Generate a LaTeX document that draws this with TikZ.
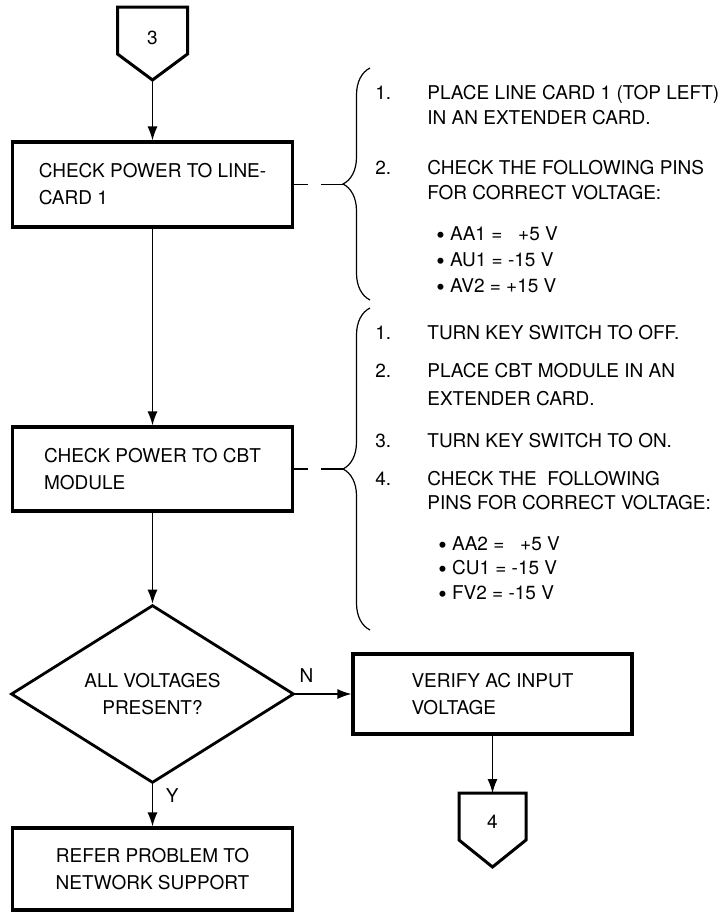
\documentclass[tikz,border=0pt]{standalone}
\usepackage{fontspec}
\setmainfont{TeX Gyre Heros}
\usepackage{tikz}
\usetikzlibrary{arrows.meta,shapes.geometric,decorations.pathreplacing}
\newcommand{\dotmark}{\raisebox{-1.6pt}{\fontsize{12}{12}\selectfont •}}
\tikzstyle{box}=[rectangle, draw=black, line width=1.6pt, minimum width=140pt, minimum height=42.5pt, inner sep=0pt, align=left]
\tikzstyle{decision}=[diamond, draw=black, line width=1.4pt, minimum width=141.5pt, minimum height=79pt, inner sep=0pt, align=center]
\tikzstyle{offpage}=[draw=black, line width=1.5pt]
\tikzstyle{arrow}=[draw=black, line width=0.6pt, -{Latex[length=7pt,width=5pt]}]
\tikzstyle{dashline}=[draw=black, line width=0.6pt, dash pattern=on 7pt off 6.5pt on 12pt off 0pt]
\tikzstyle{curly}=[draw=black, line width=0.6pt, decorate, decoration={brace, amplitude=13.5pt}]
\tikzstyle{item}=[anchor=base west, inner sep=0pt]

\begin{document}
\begin{tikzpicture}[x=0.5pt, y=-0.5pt, every node/.style={font=\fontsize{9.5}{13.5}\selectfont}]
		   \useasboundingbox (0,0) rectangle (723,912);
		   \begin{scope}
			   % off-page connectors
			   \draw[offpage] (117.5,7) -- (187.5,7) -- (187.5,54) -- (152.5,80) -- (117.5,54) -- cycle;
			   \node (c3) at (152.5,38) {3};
			   \coordinate (c3tip) at (152.5,80);
			   \draw[offpage] (459,793) -- (526,793) -- (526,840) -- (492.5,867) -- (459,840) -- cycle;
			   \node (c4) at (492.5,822) {4};
			   \coordinate (c4top) at (492.5,793);
		   \end{scope}
		   \begin{scope}
			   \node (b1) at (152.5,184.5)[box] {CHECK POWER TO LINE-\\CARD 1};
			   \node (b2) at (152.5,469)[box, minimum height=42pt] {CHECK POWER TO CBT\\MODULE};
			   \node (d) at (152.5,694)[decision] {ALL VOLTAGES\\PRESENT?};
			   \node (b3) at (492.5,694)[box, minimum width=139.5pt, minimum height=40pt] {VERIFY AC INPUT\\VOLTAGE};
			   \node (b4) at (152.5,869)[box, minimum height=41pt, align=center] {REFER PROBLEM TO\\NETWORK SUPPORT};
		   \end{scope}
		   \begin{scope}
			   % first list
			   \node (l1n1) at (375,99)[item] {1.};
			   \node (l1t1) at (427,99)[item] {PLACE LINE CARD 1 (TOP LEFT)};
			   \node (l1t1b) at (427,124)[item] {IN AN EXTENDER CARD.};
			   \node (l1n2) at (375,174)[item] {2.};
			   \node (l1t2) at (427,174)[item] {CHECK THE FOLLOWING PINS};
			   \node (l1t2b) at (427,199)[item] {FOR CORRECT VOLTAGE:};
			   \node (l1p1) at (436,240)[item] {\dotmark\ AA1 = \hphantom{1}+5 V};
			   \node (l1p2) at (436,266)[item] {\dotmark\ AU1 = -15 V};
			   \node (l1p3) at (436,292)[item] {\dotmark\ AV2 = +15 V};
			   % second list
			   \node (l2n1) at (375,339)[item] {1.};
			   \node (l2t1) at (427,339)[item] {TURN KEY SWITCH TO OFF.};
			   \node (l2n2) at (375,377)[item] {2.};
			   \node (l2t2) at (427,377)[item] {PLACE CBT MODULE IN AN};
			   \node (l2t2b) at (427,405)[item] {EXTENDER CARD.};
			   \node (l2n3) at (375,447)[item] {3.};
			   \node (l2t3) at (427,447)[item] {TURN KEY SWITCH TO ON.};
			   \node (l2n4) at (375,485)[item] {4.};
			   \node (l2t4) at (427,485)[item] {CHECK THE \ FOLLOWING};
			   \node (l2t4b) at (427,509)[item] {PINS FOR CORRECT VOLTAGE:};
			   \node (l2p1) at (438,550)[item] {\dotmark\ AA2 = \hphantom{1}+5 V};
			   \node (l2p2) at (438,574)[item] {\dotmark\ CU1 = -15 V};
			   \node (l2p3) at (438,599)[item] {\dotmark\ FV2 = -15 V};
		   \end{scope}
		   \begin{scope}
			   \draw[curly] (370,300) -- (370,68);
			   \coordinate (tip1) at (343,184.5);
			   \draw[curly] (370,630) -- (370,308);
			   \coordinate (tip2) at (343,469);
			   \draw[dashline] (b1.east) -- (b1.east -| tip1);
			   \draw[dashline] (b2.east) -- (b2.east -| tip2);
		   \end{scope}
		   \begin{scope}
			   \draw[arrow] (c3tip) -- (b1.north);
			   \draw[arrow] (b1.south) -- (b2.north);
			   \draw[arrow] (b2.south) -- (d.north);
			   \draw[arrow] (d.east) -- node[pos=0.2, above, yshift=2pt] (n) {N} (b3.west);
			   \draw[arrow] (d.south) -- node[pos=0.27, right, xshift=3pt] (y) {Y} (b4.north);
			   \draw[arrow] (b3.south) -- (c4top);
		   \end{scope}
	   \end{tikzpicture}
\end{document}
